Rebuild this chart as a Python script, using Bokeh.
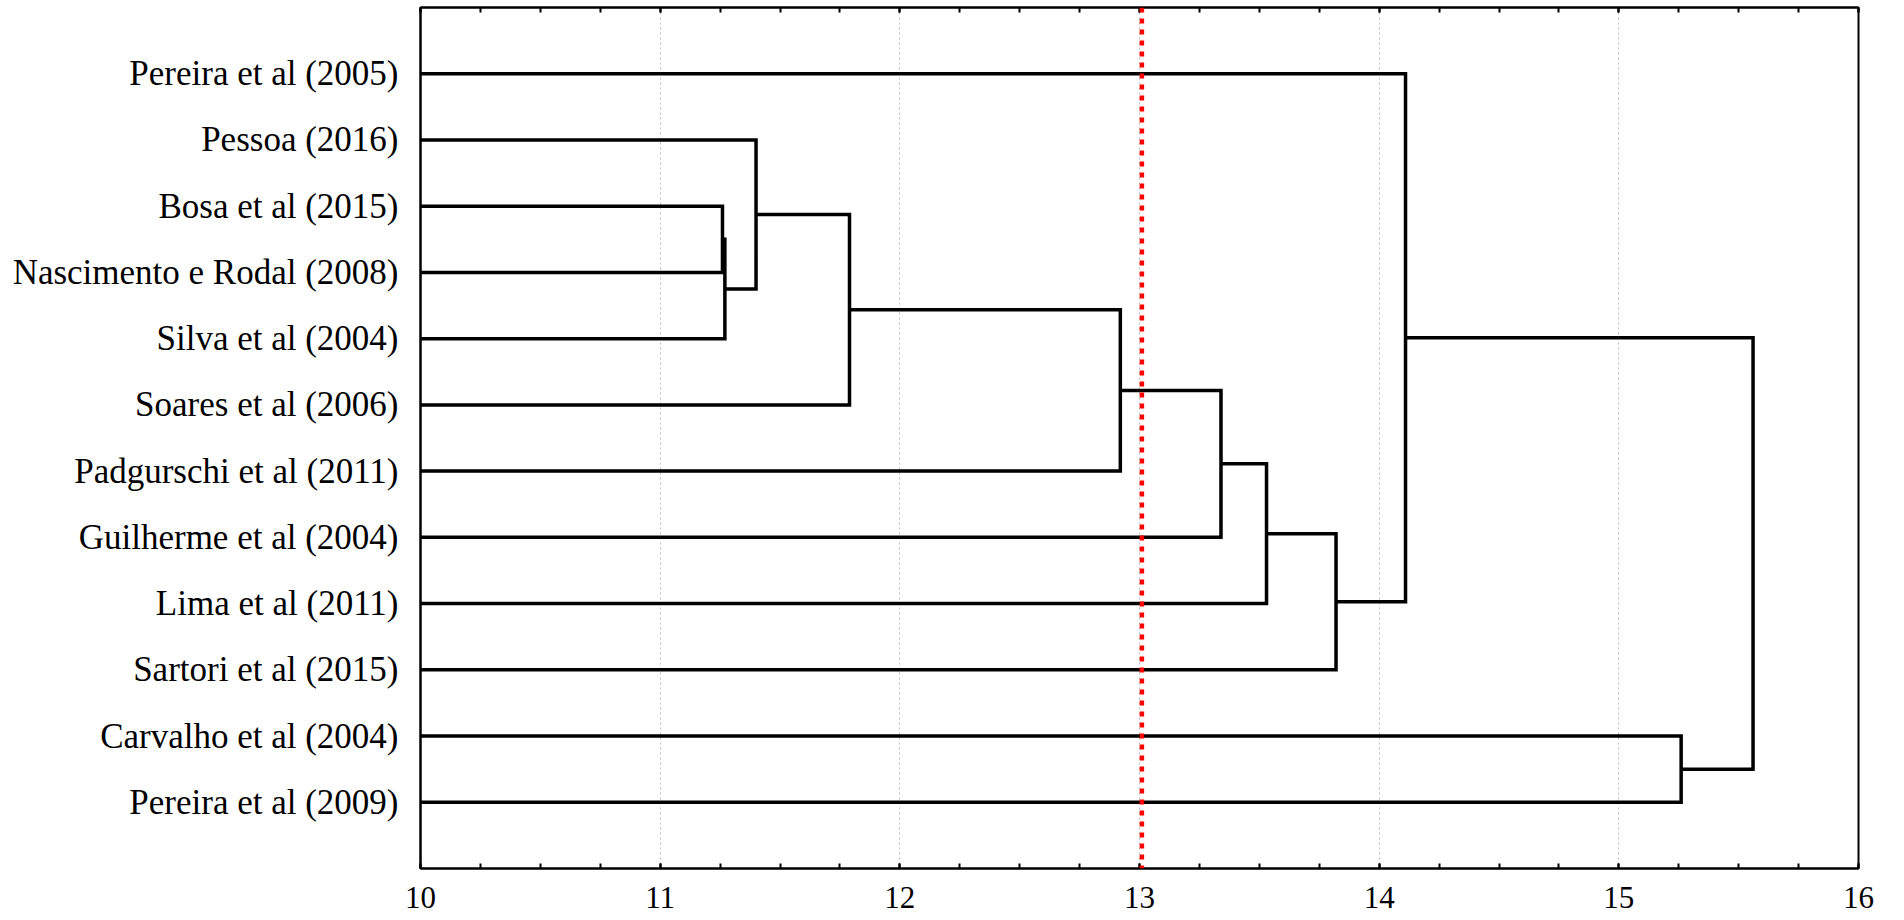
from bokeh.plotting import figure
from bokeh.models import LinearAxis, Range1d, FixedTicker, Span
from bokeh.embed import file_html
from bokeh.resources import INLINE

# ---- data ----
labels = [
    "Pereira et al (2005)",
    "Pessoa (2016)",
    "Bosa et al (2015)",
    "Nascimento e Rodal (2008)",
    "Silva et al (2004)",
    "Soares et al (2006)",
    "Padgurschi et al (2011)",
    "Guilherme et al (2004)",
    "Lima et al (2011)",
    "Sartori et al (2015)",
    "Carvalho et al (2004)",
    "Pereira et al (2009)",
]
# linkage: (child_a, child_b, distance); new node ids start at len(labels)
merge_a = [2, 12, 1, 14, 15, 16, 17, 18, 0, 10, 20]
merge_b = [3, 4, 13, 5, 6, 7, 8, 9, 19, 11, 21]
merge_h = [11.26, 11.27, 11.40, 11.79, 12.92, 13.34, 13.53, 13.82, 14.11, 15.26, 15.56]
cut_value = 13.01
x_ticks = [10, 11, 12, 13, 14, 15, 16]
base_value = 10

# ---- geometry from linkage ----
n = len(labels)
pos = {i: (base_value, i + 1) for i in range(n)}
xs, ys = [], []
for k, (a, b, h) in enumerate(zip(merge_a, merge_b, merge_h)):
    xa, ya = pos[a]
    xb, yb = pos[b]
    xs.append([xa, h, h, xb])
    ys.append([ya, ya, yb, yb])
    pos[n + k] = (h, (ya + yb) / 2)

FONT = "Liberation Serif"
minor = [10 + 0.25 * i for i in range(25)]

p = figure(width=1904, height=920, output_backend="svg", toolbar_location=None,
           x_range=Range1d(10, 16), y_range=Range1d(n + 1, 0),
           min_border_left=420, min_border_right=46, min_border_top=7, min_border_bottom=52)

p.outline_line_color = "black"
p.outline_line_width = 2

# grid
p.xgrid.ticker = FixedTicker(ticks=x_ticks)
p.xgrid.grid_line_color = "#bdbdbd"
p.xgrid.grid_line_dash = "2 3"
p.xgrid.grid_line_width = 1
p.ygrid.grid_line_color = None

# bottom axis
xa = p.below[0]
xa.ticker = FixedTicker(ticks=x_ticks, minor_ticks=minor)
xa.major_tick_in = 5
xa.major_tick_out = 0
xa.minor_tick_in = 5
xa.minor_tick_out = 0
xa.axis_line_width = 2
xa.major_tick_line_width = 2
xa.minor_tick_line_width = 2
xa.major_label_text_font = FONT
xa.major_label_text_font_size = "31px"
xa.major_label_text_color = "black"
xa.major_label_text_line_height = 1.0
xa.major_label_standoff = 18

# top axis: ticks only
top = LinearAxis(ticker=FixedTicker(ticks=x_ticks, minor_ticks=minor),
                 major_tick_in=5, major_tick_out=0, minor_tick_in=5, minor_tick_out=0,
                 major_label_text_font_size="0px", major_label_text_color=None,
                 axis_line_width=2, major_tick_line_width=2, minor_tick_line_width=2)
p.add_layout(top, "above")

# left axis: labels
ya_ = p.left[0]
ya_.ticker = FixedTicker(ticks=list(range(1, n + 1)))
ya_.major_label_overrides = {i + 1: lab for i, lab in enumerate(labels)}
ya_.major_tick_in = 0
ya_.major_tick_out = 0
ya_.minor_tick_line_color = None
ya_.axis_line_width = 2
ya_.major_label_text_font = FONT
ya_.major_label_text_font_size = "35px"
ya_.major_label_text_color = "black"
ya_.major_label_standoff = 22

# dendrogram
p.multi_line(xs, ys, line_color="black", line_width=3.5, line_join="miter")

# cut line
p.add_layout(Span(location=cut_value, dimension="height", line_color="red",
                  line_width=4.5, line_dash="5 6"))

open("out.html", "w").write(file_html(p, INLINE))
